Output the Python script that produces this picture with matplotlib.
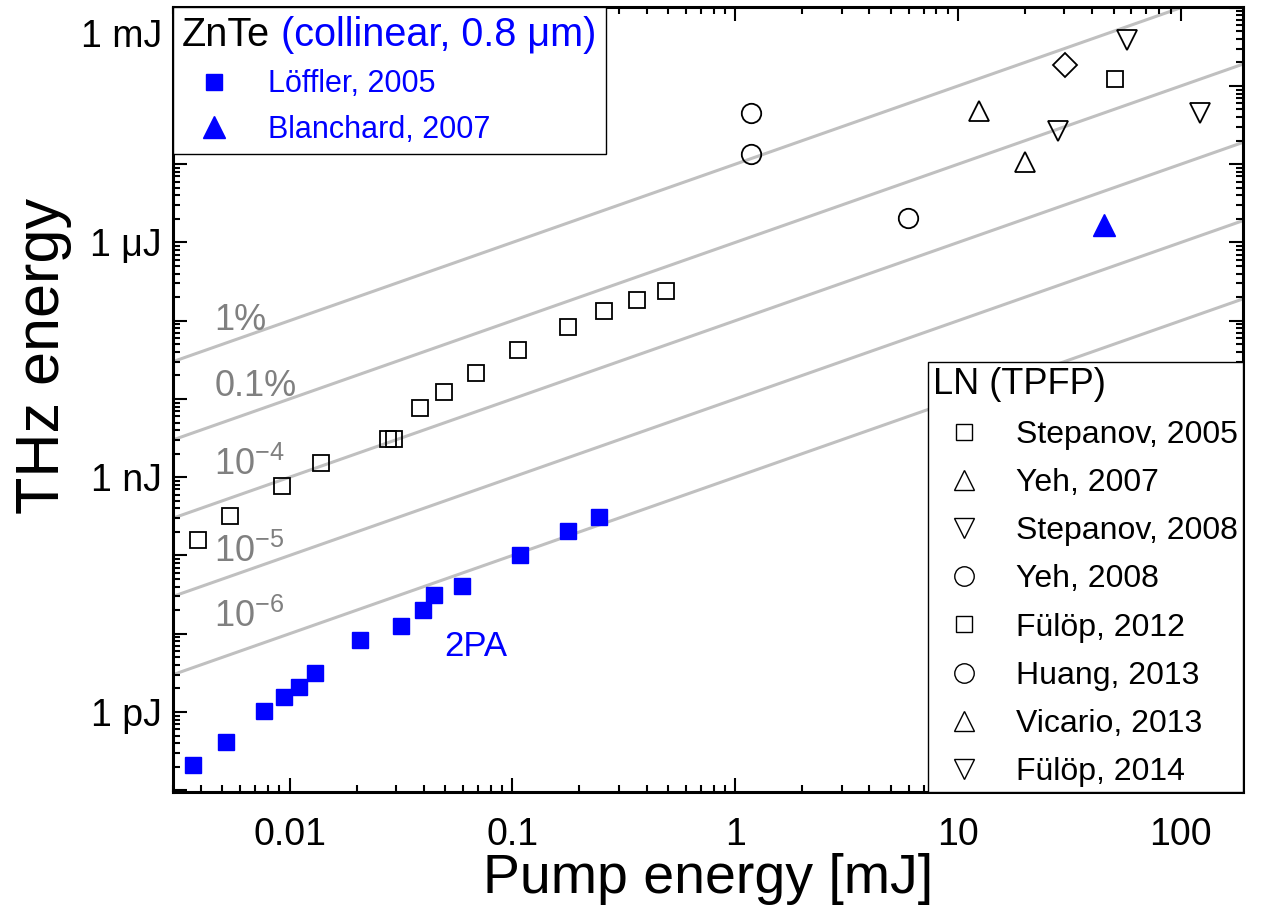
import numpy as np
import matplotlib
matplotlib.use("Agg")
import matplotlib.pyplot as plt
from matplotlib.ticker import FixedLocator, FuncFormatter, LogLocator, NullFormatter

plt.rcParams['font.family'] = ['Liberation Sans', 'DejaVu Sans']
plt.rcParams['mathtext.fontset'] = 'custom'
plt.rcParams['mathtext.rm'] = 'Liberation Sans'
plt.rcParams['mathtext.it'] = 'Liberation Sans:italic'
plt.rcParams['mathtext.default'] = 'regular'

# --- data: pump energy [mJ], THz energy [J] ---
# ZnTe (collinear, 0.8 um)
loffler_x = [0.00368, 0.00520, 0.00767, 0.00943, 0.0110, 0.0130, 0.0208,
             0.0317, 0.0396, 0.0445, 0.0594, 0.108, 0.177, 0.245]
loffler_y = [2.10e-13, 4.16e-13, 1.04e-12, 1.56e-12, 2.06e-12, 3.11e-12, 8.28e-12,
             1.25e-11, 2.04e-11, 3.11e-11, 4.09e-11, 1.01e-10, 2.06e-10, 3.06e-10]
blanchard_x = [45.4]
blanchard_y = [1.65e-6]

# LN (TPFP)
stepanov05_x = [0.00388, 0.00543, 0.00927, 0.0139, 0.0277, 0.0293, 0.0384,
                0.0491, 0.0690, 0.1055, 0.1775, 0.2585, 0.3635, 0.490]
stepanov05_y = [1.57e-10, 3.18e-10, 7.67e-10, 1.54e-9, 3.06e-9, 3.06e-9, 7.68e-9,
                1.23e-8, 2.15e-8, 4.28e-8, 8.31e-8, 1.32e-7, 1.82e-7, 2.42e-7]
yeh07_x, yeh07_y = [20.0], [1.06e-5]
stepanov08_x, stepanov08_y = [28.1], [2.68e-5]
yeh08_x, yeh08_y = [5.98], [2.07e-6]
fulop12_x, fulop12_y = [50.4], [1.22e-4]
huang13_x, huang13_y = [1.18, 1.18], [4.49e-5, 1.33e-5]
vicario13_x, vicario13_y = [12.4], [4.77e-5]
fulop14_x, fulop14_y = [57.2, 121.7], [3.85e-4, 4.46e-5]
other_x, other_y = [30.3], [1.83e-4]

# efficiency guide lines
eff_values = [1e-2, 1e-3, 1e-4, 1e-5, 1e-6]
eff_labels = ['1%', '0.1%', '$10^{-4}$', '$10^{-5}$', '$10^{-6}$']
eff_label_y = [7.7e-8, 1.08e-8, 1.06e-9, 8.3e-11, 1.23e-11]
eff_label_x = 0.0046

y_major = [1e-12, 1e-9, 1e-6]
y_major_labels = ['1 pJ', '1 nJ', '1 \u03bcJ']
y_top_label = '1 mJ'   # sits a bit below its tick (top of the frame)
x_major = [0.01, 0.1, 1, 10, 100]
x_major_labels = ['0.01', '0.1', '1', '10', '100']

XLIM = (0.003, 190)
YLIM = (9.5e-14, 1.02e-3)

fig = plt.figure(figsize=(12.61, 9.10), dpi=100)
ax = fig.add_axes([173 / 1261, 118 / 910, 1070 / 1261, 785 / 910])
ax.set_xscale('log')
ax.set_yscale('log')
ax.set_xlim(*XLIM)
ax.set_ylim(*YLIM)

# guide lines E_THz = eff * E_pump
xl = np.array(XLIM)
for eff in eff_values:
    ax.plot(xl, eff * xl * 1e-3, color='#c0c0c0', lw=2.2, zorder=1)
for lab, yv in zip(eff_labels, eff_label_y):
    ax.text(eff_label_x, yv, lab, color='#808080', fontsize=26, ha='left', va='baseline', zorder=2)

blue = '#0000ff'
open_kw = dict(ls='none', mfc='none', mec='black', mew=1.3, zorder=3)
h_lof, = ax.plot(loffler_x, loffler_y, ls='none', marker='s', ms=12, color=blue, mec=blue, zorder=3)
h_bla, = ax.plot(blanchard_x, blanchard_y, ls='none', marker='^', ms=16, color=blue, mec=blue, zorder=3)

h_st05, = ax.plot(stepanov05_x, stepanov05_y, marker='s', ms=11.5, **open_kw)
h_yeh07, = ax.plot(yeh07_x, yeh07_y, marker='^', ms=15, **open_kw)
h_st08, = ax.plot(stepanov08_x, stepanov08_y, marker='v', ms=15, **open_kw)
h_yeh08, = ax.plot(yeh08_x, yeh08_y, marker='o', ms=14, **open_kw)
h_fu12, = ax.plot(fulop12_x, fulop12_y, marker='s', ms=11.5, **open_kw)
h_hu13, = ax.plot(huang13_x, huang13_y, marker='o', ms=14, **open_kw)
h_vi13, = ax.plot(vicario13_x, vicario13_y, marker='^', ms=15, **open_kw)
h_fu14, = ax.plot(fulop14_x, fulop14_y, marker='v', ms=15, **open_kw)
ax.plot(other_x, other_y, marker='D', ms=12.5, **open_kw)

ax.text(0.0497, 5.18e-12, '2PA', color=blue, fontsize=25, ha='left', va='baseline')

# axes, ticks
ylab_map = {round(np.log10(t)): s for t, s in zip(y_major, y_major_labels)}
ax.yaxis.set_major_locator(FixedLocator([10.0 ** k for k in range(-13, -2)]))
ax.yaxis.set_major_formatter(FuncFormatter(lambda v, pos: ylab_map.get(round(np.log10(v)), '')))
ax.yaxis.set_minor_locator(LogLocator(base=10, subs=np.arange(2, 10), numticks=40))
ax.yaxis.set_minor_formatter(NullFormatter())
ax.xaxis.set_major_locator(FixedLocator(x_major))
ax.xaxis.set_major_formatter(FuncFormatter(lambda v, pos: dict(zip(x_major, x_major_labels)).get(v, '')))
ax.xaxis.set_minor_locator(LogLocator(base=10, subs=np.arange(2, 10), numticks=40))
ax.xaxis.set_minor_formatter(NullFormatter())

ax.tick_params(which='both', direction='in', top=True, right=True, width=1.5, labelsize=27)
ax.tick_params(which='major', length=10)
ax.tick_params(which='minor', length=5)
ax.tick_params(axis='y', which='major', pad=8)
ax.tick_params(axis='x', which='major', pad=18)
for sp in ax.spines.values():
    sp.set_linewidth(2.2)

ax.annotate(y_top_label, xy=(0, 1e-3), xycoords=ax.get_yaxis_transform(),
            xytext=(-8, -21), textcoords='offset points', ha='right', va='center', fontsize=27)

ax.set_xlabel('Pump energy [mJ]', fontsize=40, labelpad=0)
ax.set_ylabel('THz energy', fontsize=44)
ax.yaxis.set_label_coords(-0.094, 0.555)

# legends
leg1 = ax.legend([h_lof, h_bla], ['L\u00f6ffler, 2005', 'Blanchard, 2007'],
                 title='ZnTe (collinear, 0.8 \u03bcm)', title_fontsize=28.5, fontsize=22,
                 loc='upper left', borderaxespad=0, borderpad=0.3, handlelength=2.1,
                 handletextpad=0.7, labelspacing=0.5, labelcolor=blue, alignment='left',
                 fancybox=False, edgecolor='black', framealpha=1)
leg1.get_frame().set_linewidth(1.0)
ttl = leg1.get_title()
ttl.set_alpha(0)
ax.add_artist(leg1)
a1 = ax.annotate('ZnTe', xy=(0, 0), xycoords=ttl, ha='left', va='bottom',
                 fontsize=28.5, color='black', zorder=10)
ax.annotate(' (collinear, 0.8 \u03bcm)', xy=(1, 0), xycoords=a1, ha='left', va='bottom',
            fontsize=28.5, color=blue, zorder=10)

ln_handles = [h_st05, h_yeh07, h_st08, h_yeh08, h_fu12, h_hu13, h_vi13, h_fu14]
ln_labels = ['Stepanov, 2005', 'Yeh, 2007', 'Stepanov, 2008', 'Yeh, 2008',
             'F\u00fcl\u00f6p, 2012', 'Huang, 2013', 'Vicario, 2013', 'F\u00fcl\u00f6p, 2014']
leg2 = ax.legend(ln_handles, ln_labels, title='LN (TPFP)', title_fontsize=26, fontsize=23,
                 loc='lower right', borderaxespad=0, borderpad=0.15, handlelength=1.95,
                 handletextpad=0.65, labelspacing=0.57, alignment='left',
                 fancybox=False, edgecolor='black', framealpha=1)
leg2.get_frame().set_linewidth(1.0)
for h in leg2.legend_handles:
    h.set_markeredgewidth(1.0)

fig.savefig('out.png', dpi=100)
